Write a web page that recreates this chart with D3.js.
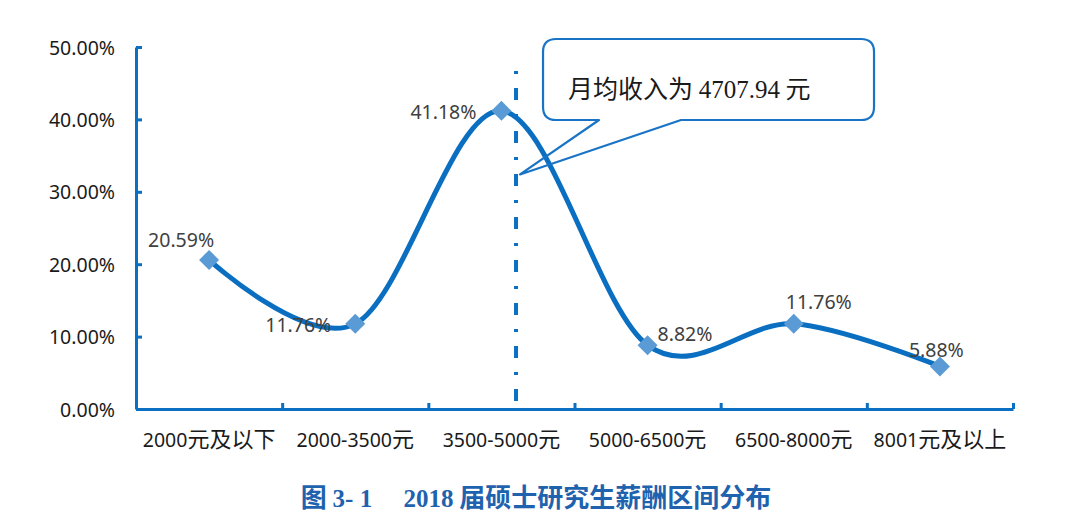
<!DOCTYPE html>
<html><head><meta charset="utf-8">
<script src="https://cdn.jsdelivr.net/npm/d3@7/dist/d3.min.js"></script>
<style>
html,body{margin:0;padding:0;background:#fff;}
svg{display:block;}
</style></head>
<body>
<svg id="chart" width="1080" height="528"></svg>
<script>
// ---- data ----
const categories = ["2000元及以下", "2000-3500元", "3500-5000元", "5000-6500元", "6500-8000元", "8001元及以上"];
const values = [20.59, 11.76, 41.18, 8.82, 11.76, 5.88];
const yTicks = [0, 10, 20, 30, 40, 50];
const meanIncome = 4707.94;
const meanLinePos = 2.1; // position on category index axis
const calloutText = ["月均收入为 ", "4707.94", " 元"];
const titleParts = ["图\u00a0", "3-\u00a01", "\u00a0\u00a0\u00a0\u00a0\u00a0", "2018", "\u00a0届硕士研究生薪酬区间分布"];
// label offsets (style config)
const labelOffsets = [[-61, -13], [-90, 8], [-91, 8], [10, -4], [-8, -15], [-31, -9]];

// ---- layout ----
const X0 = 136, X1 = 1013, Y0 = 409, Y1 = 47;
const axisColor = "#0b6fc2", lineColor = "#0a6fc0", markerColor = "#5b9bd5";
const latin = "'Noto Sans', sans-serif", cjk = "'Noto Sans CJK SC', sans-serif";

const svg = d3.select("#chart");
const x = d3.scaleBand().domain(categories).range([X0, X1]).padding(0);
const xi = d3.scaleLinear().domain([-0.5, categories.length - 0.5]).range([X0, X1]);
const y = d3.scaleLinear().domain([0, 50]).range([Y0, Y1]);

function mixed(sel, text, latinSize, cjkSize) {
  sel.text(null);
  const runs = text.match(/[\u3000-\u9fff\uff00-\uffef]+|[^\u3000-\u9fff\uff00-\uffef]+/g) || [];
  runs.forEach(r => {
    const isCjk = /[\u3000-\u9fff]/.test(r);
    sel.append("tspan").text(r)
      .attr("font-family", isCjk ? cjk : latin)
      .attr("font-size", isCjk ? cjkSize : latinSize);
  });
}

// y axis
const yAxis = svg.append("g").attr("transform", `translate(${X0},0)`)
  .call(d3.axisLeft(y).tickValues(yTicks).tickFormat(d => d.toFixed(2) + "%")
    .tickSizeInner(-6).tickSizeOuter(0).tickPadding(21));
yAxis.select(".domain").attr("stroke", axisColor).attr("stroke-width", 3);
yAxis.selectAll(".tick line").attr("stroke", axisColor).attr("stroke-width", 3);
yAxis.selectAll(".tick text").attr("font-family", latin).attr("font-size", 19.5)
  .attr("fill", "#1a1a1a").attr("dy", "0.36em");

// x axis: boundary ticks
const xTickAxis = svg.append("g").attr("transform", `translate(0,${Y0})`)
  .call(d3.axisBottom(xi).tickValues(d3.range(categories.length).map(i => i + 0.5))
    .tickFormat("").tickSizeInner(-6).tickSizeOuter(0));
xTickAxis.select(".domain").attr("stroke", axisColor).attr("stroke-width", 3);
xTickAxis.selectAll(".tick line").attr("stroke", axisColor).attr("stroke-width", 3);

// x axis: category labels
const xLab = svg.append("g").attr("transform", `translate(0,${Y0})`)
  .call(d3.axisBottom(x).tickSize(0).tickPadding(24));
xLab.select(".domain").remove();
xLab.selectAll(".tick text").attr("fill", "#1a1a1a").attr("font-size", 19.5)
  .each(function(d) { mixed(d3.select(this), d, 19.5, 22); });

// mean dash-dot line (drawn bottom-up)
const mx = xi(meanLinePos);
svg.append("line")
  .attr("x1", mx).attr("x2", mx).attr("y1", y(1.1)).attr("y2", y(48.2))
  .attr("stroke", axisColor).attr("stroke-width", 4)
  .attr("stroke-dasharray", "12,14,3,14");

// smooth curve
const pts = values.map((v, i) => [x(categories[i]) + x.bandwidth() / 2, y(v)]);
svg.append("path").datum(pts)
  .attr("d", d3.line().curve(d3.curveCardinal.tension(0)))
  .attr("fill", "none").attr("stroke", lineColor).attr("stroke-width", 5)
  .attr("stroke-linecap", "round").attr("stroke-linejoin", "round");

// markers
svg.append("g").selectAll("path").data(pts).join("path")
  .attr("d", d3.symbol(d3.symbolSquare, 200))
  .attr("transform", d => `translate(${d[0]},${d[1]}) rotate(45)`)
  .attr("fill", markerColor);

// data labels
svg.append("g").selectAll("text").data(values).join("text")
  .attr("x", (d, i) => pts[i][0] + labelOffsets[i][0])
  .attr("y", (d, i) => pts[i][1] + labelOffsets[i][1])
  .attr("font-family", latin).attr("font-size", 19.5).attr("fill", "#404040")
  .text(d => d.toFixed(2) + "%");

// callout
const bx0 = mx + 27, bx1 = mx + 358, by0 = 39, by1 = 120, r = 13;
const tipX = mx + 4, tipY = y(32.4);
const pA = mx + 83, pB = mx + 165;
const cp = d3.path();
cp.moveTo(bx0 + r, by0);
cp.lineTo(bx1 - r, by0);
cp.quadraticCurveTo(bx1, by0, bx1, by0 + r);
cp.lineTo(bx1, by1 - r);
cp.quadraticCurveTo(bx1, by1, bx1 - r, by1);
cp.lineTo(pB, by1);
cp.lineTo(tipX, tipY);
cp.lineTo(pA, by1);
cp.lineTo(bx0 + r, by1);
cp.quadraticCurveTo(bx0, by1, bx0, by1 - r);
cp.lineTo(bx0, by0 + r);
cp.quadraticCurveTo(bx0, by0, bx0 + r, by0);
cp.closePath();
svg.append("path").attr("d", cp.toString())
  .attr("fill", "none").attr("stroke", "#1a74c6").attr("stroke-width", 2.2)
  .attr("stroke-linejoin", "round");

const ct = svg.append("text").attr("x", bx0 + 25).attr("y", 98).attr("fill", "#1a1a1a");
calloutText.forEach((t, i) => {
  ct.append("tspan").text(t)
    .attr("font-family", i === 1 ? "'Liberation Serif', serif" : cjk)
    .attr("font-size", 25);
});

// title
const tt = svg.append("text").attr("x", 536).attr("y", 507).attr("text-anchor", "middle")
  .attr("fill", "#1f62ae").attr("font-weight", "bold");
titleParts.forEach(t => {
  const isCjk = /[\u3000-\u9fff]/.test(t);
  tt.append("tspan").text(t)
    .attr("font-family", isCjk ? cjk : "'Liberation Serif', serif")
    .attr("font-size", isCjk ? 26 : 25);
});
</script>
</body></html>
